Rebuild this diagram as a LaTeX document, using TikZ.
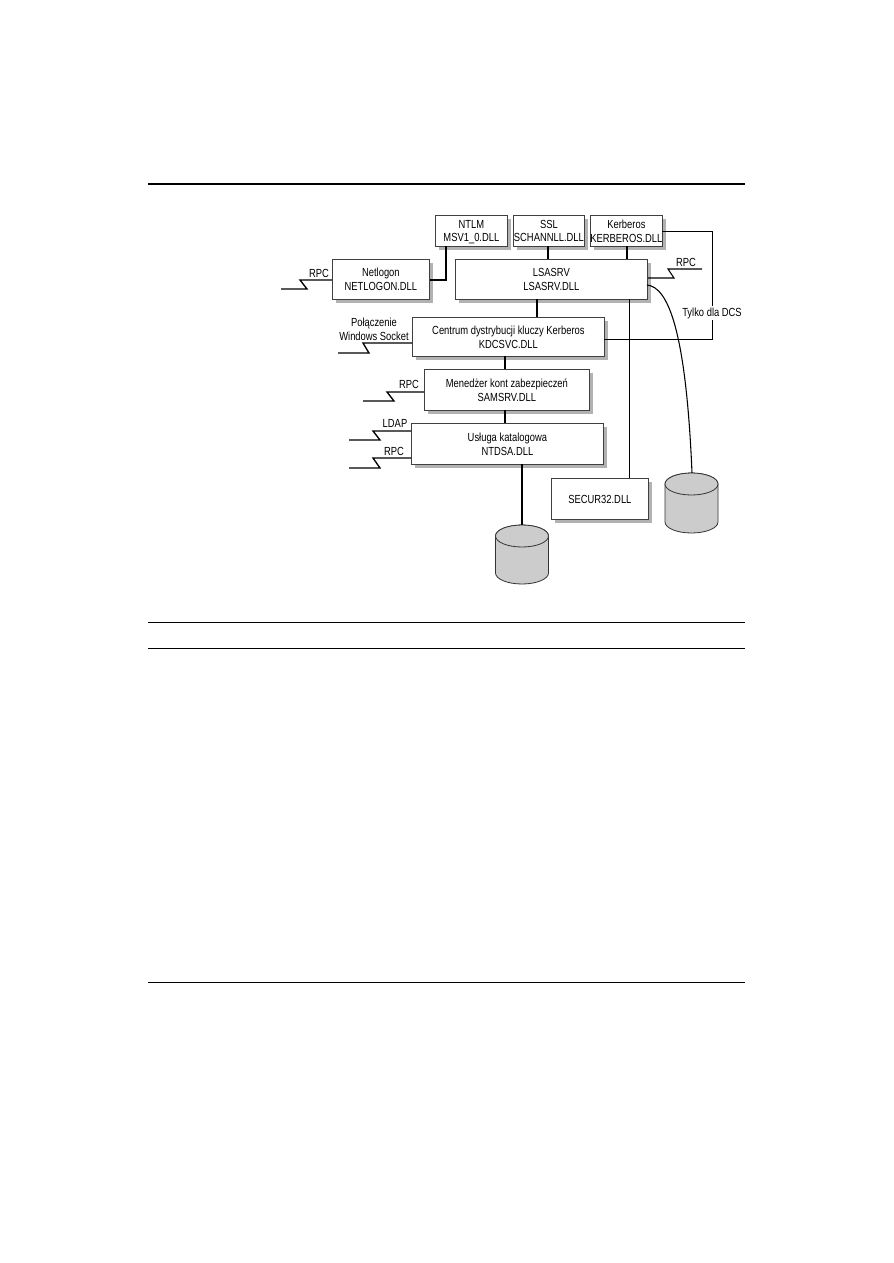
\documentclass[tikz,border=0pt]{standalone}
\usepackage{fontspec}
\setmainfont[FakeStretch=0.8]{Liberation Sans}
\begin{document}
\begin{tikzpicture}[x=0.75pt,y=-0.75pt,
  box/.style={draw=black!75,line width=0.6pt,fill=white,align=center,inner sep=0pt,anchor=north west,font=\fontsize{8.8}{10.4}\selectfont,
    text depth=0pt},
  lbl/.style={inner sep=0pt,align=center,font=\fontsize{8.8}{10.4}\selectfont},
  shade/.style={fill=black!30,draw=none},
  wire/.style={draw=black,line width=1pt},
  thin wire/.style={draw=black,line width=0.6pt}]
\useasboundingbox (0,0) rectangle (893,1263);
\fill[white] (0,0) rectangle (893,1263);
% page rules
\coordinate (ra) at (148,184); \coordinate (rb) at (745,184);
\coordinate (rc) at (148,622); \coordinate (rd) at (745,622);
\coordinate (re) at (148,648); \coordinate (rf) at (745,648);
\coordinate (rg) at (148,982); \coordinate (rh) at (745,982);
\draw[line width=1.5pt] (ra) -- (rb);
\draw[line width=0.7pt] (rc) -- (rd);
\draw[line width=0.7pt] (re) -- (rf);
\draw[line width=0.7pt] (rg) -- (rh);
% shadows
\foreach \xa/\ya/\xb/\yb in {435/215/507/246,513/215/584/246,590/215/662/246,332/259/429/299,455/259/647/299,412/317/604/356,424/369/589/410,411/423/603/464,551/478/648/519}{
  \path[shade] (\xa+4,\ya+4) rectangle (\xb+4,\yb+4);
}
% boxes
\node[box,minimum width=54pt,minimum height=23.25pt] (ntlm) at (435,215) {NTLM\\MSV1\_0.DLL};
\node[box,minimum width=53.25pt,minimum height=23.25pt] (ssl) at (513,215) {SSL\\SCHANNLL.DLL};
\node[box,minimum width=54pt,minimum height=23.25pt] (kerb) at (590,215) {Kerberos\\KERBEROS.DLL};
\node[box,minimum width=72.75pt,minimum height=30pt] (netl) at (332,259) {Netlogon\\NETLOGON.DLL};
\node[box,minimum width=144pt,minimum height=30pt] (lsa) at (455,259) {LSASRV\\LSASRV.DLL};
\node[box,minimum width=144pt,minimum height=29.25pt] (kdc) at (412,317) {Centrum dystrybucji kluczy Kerberos\\KDCSVC.DLL};
\node[box,minimum width=123.75pt,minimum height=30.75pt] (sam) at (424,369) {Menedżer kont zabezpieczeń\\SAMSRV.DLL};
\node[box,minimum width=144pt,minimum height=30.75pt] (nt) at (411,423) {Usługa katalogowa\\NTDSA.DLL};
\node[box,minimum width=72.75pt,minimum height=30.75pt] (sec) at (551,478) {SECUR32.DLL};
% cylinders
\foreach \n/\cx/\ty/\by in {cylr/691.5/473/533,cylb/522/525/584}{
  \coordinate (\n) at (\cx,\ty);
  \draw[fill=black!20,draw=black!80,line width=0.6pt] (\cx-26.5,\ty+11) arc[start angle=180,end angle=360,x radius=26.5,y radius=11] -- (\cx+26.5,\by-11) arc[start angle=0,end angle=180,x radius=26.5,y radius=11] -- cycle;
  \draw[fill=black!20,draw=black!80,line width=0.6pt] (\cx-26.5,\ty+11) arc[start angle=180,end angle=540,x radius=26.5,y radius=11];
}
% connectors
\draw[wire] (446,246) |- (netl.east |- 0,280);
\draw[wire] (548,246) -- (548,259);
\draw[wire] (627,246) -- (627,259);
\draw[wire] (537,299) -- (537,317);
\draw[wire] (505,356) -- (505,369);
\draw[wire] (505,410) -- (505,423);
\draw[wire] (522,464) -- (cylb);
\draw[thin wire] (629,299) -- (629,478);
\draw[thin wire,line width=0.75pt] (662,231) -- (712,231) -- (712,339) -- (604,339);
\draw[wire,line width=0.8pt] (647,285) .. controls (668,287) and (686,330) .. (692,473);
% zigzags
\coordinate (z1) at (281,289);
\draw[wire] (netl.west |- 0,280) -- (300,280) -- (307,289) -- (z1);
\coordinate (z2) at (338,353);
\draw[wire] (kdc.west |- 0,343) -- (363,343) -- (369,353) -- (z2);
\coordinate (z3) at (363,401);
\draw[wire] (sam.west |- 0,392) -- (387,392) -- (394,401) -- (z3);
\coordinate (z4) at (349,440);
\draw[wire] (nt.west |- 0,431) -- (373,431) -- (380,440) -- (z4);
\coordinate (z5) at (349,468);
\draw[wire] (nt.west |- 0,458) -- (373,458) -- (380,468) -- (z5);
\coordinate (z6) at (702,269);
\draw[wire,line width=0.8pt] (lsa.east |- 0,278) -- (674,278) -- (668,269) -- (z6);
% labels
\node[lbl] (l1) at (319,273) {RPC};
\node[lbl] (l2) at (374,329) {Połączenie\\Windows Socket};
\node[lbl] (l3) at (409,384) {RPC};
\node[lbl] (l4) at (395,423) {LDAP};
\node[lbl] (l5) at (394,451) {RPC};
\node[lbl] (l6) at (686,262) {RPC};
\node[lbl,fill=white,inner xsep=1pt,inner ysep=1pt] (l7) at (712,313) {Tylko dla DCS};
\end{tikzpicture}
\end{document}
